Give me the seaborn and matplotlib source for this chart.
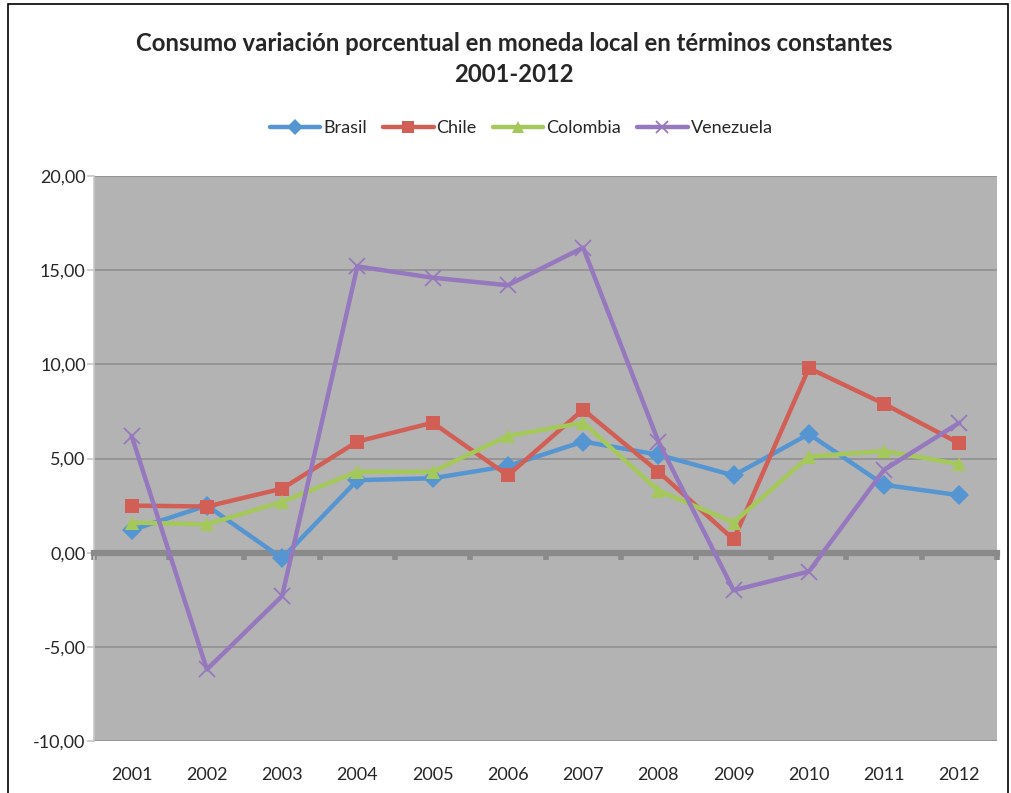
import matplotlib
matplotlib.use("Agg")
import matplotlib.pyplot as plt
import matplotlib.colors as mcolors
import seaborn as sns
import pandas as pd
import numpy as np
from matplotlib.patches import Rectangle

years = ["2001", "2002", "2003", "2004", "2005", "2006", "2007", "2008", "2009", "2010", "2011", "2012"]
brasil = [1.2, 2.5, -0.3, 3.85, 3.95, 4.6, 5.9, 5.2, 4.1, 6.3, 3.6, 3.05]
chile = [2.5, 2.45, 3.4, 5.9, 6.9, 4.1, 7.6, 4.3, 0.7, 9.8, 7.9, 5.8]
colombia = [1.6, 1.5, 2.7, 4.3, 4.3, 6.2, 6.9, 3.3, 1.6, 5.1, 5.4, 4.7]
venezuela = [6.2, -6.2, -2.3, 15.2, 14.6, 14.2, 16.2, 5.9, -2.0, -1.0, 4.4, 6.9]
series = ["Brasil", "Chile", "Colombia", "Venezuela"]
yticks = [-10, -5, 0, 5, 10, 15, 20]
title = "Consumo variación porcentual en moneda local en términos constantes\n2001-2012"

colors = {"Brasil": "#5596D2", "Chile": "#D25F55", "Colombia": "#A5C85A", "Venezuela": "#9678BE"}
markers = {"Brasil": "D", "Chile": "s", "Colombia": "^", "Venezuela": "X"}

df = pd.concat([
    pd.DataFrame({"year": years, "value": vals, "country": name})
    for name, vals in zip(series, [brasil, chile, colombia, venezuela])
], ignore_index=True)

sns.set_theme(style="white")
plt.rcParams["font.family"] = ["Lato", "DejaVu Sans"]

fig = plt.figure(figsize=(10.12, 7.93), dpi=100)
ax = fig.add_axes([94 / 1012, 1 - 741 / 793, (997 - 94) / 1012, (741 - 176) / 793])
ax.set_facecolor("#b3b3b3")

sns.lineplot(data=df, x="year", y="value", hue="country", style="country",
             palette=colors, markers=markers, dashes=False, sort=False,
             linewidth=3.2, markersize=10, ax=ax, zorder=3)

def is_ven(line):
    return mcolors.to_hex(line.get_color()).lower() == colors["Venezuela"].lower()

def style_line(line, legend=False):
    if is_ven(line):
        line.set_marker("x")
        line.set_markersize(9 if legend else 11)
        line.set_markeredgewidth(1.3)
        line.set_markeredgecolor(colors["Venezuela"])
    else:
        line.set_markeredgewidth(0)
        if legend:
            line.set_markersize(8)

for line in ax.lines:
    style_line(line)

ax.set_ylim(-10, 20)
ax.set_xlim(-0.5, len(years) - 0.5)
ax.set_yticks(yticks)
ax.set_yticklabels([f"{v:.2f}".replace(".", ",") for v in yticks], fontsize=13)
ax.yaxis.grid(True, color="#8f8f8f", linewidth=1.2)
ax.set_axisbelow(True)

# zero line with category boundary ticks
ax.spines["bottom"].set_position(("data", 0))
ax.spines["bottom"].set_color("#8a8a8a")
ax.spines["bottom"].set_linewidth(4.5)
ax.set_xticks(np.arange(len(years) + 1) - 0.5)
ax.set_xticklabels([])
ax.tick_params(axis="x", direction="out", length=5, width=4, color="#8a8a8a", bottom=True)
ax.spines["left"].set_color("#c8c8c8")
ax.spines["left"].set_linewidth(1.2)
ax.tick_params(axis="y", direction="out", length=5, width=1.2, color="#c8c8c8", left=True, pad=1)
ax.spines["top"].set_visible(False)
ax.spines["right"].set_visible(False)

sec = ax.secondary_xaxis(0)
sec.set_xticks(np.arange(len(years)))
sec.set_xticklabels(years, fontsize=13)
sec.tick_params(length=0, pad=19)
sec.spines["bottom"].set_visible(False)

ax.set_xlabel("")
ax.set_ylabel("")

handles, labels = ax.get_legend_handles_labels()
for h in handles:
    style_line(h, legend=True)
ax.legend_.remove()
fig.legend(handles, labels, loc="center", bbox_to_anchor=(0.515, 1 - 128 / 793), ncol=4,
           frameon=False, fontsize=13, handlelength=2.8, handletextpad=0.15, columnspacing=0.9)

fig.text(0.508, 1 - 59 / 793, title, ha="center", va="center", fontsize=17.2, fontweight="bold", linespacing=1.4)

fig.patches.append(Rectangle((8 / 1012, -0.05), (1008 - 8) / 1012, 1.05 - 4 / 793,
                             transform=fig.transFigure, fill=False, edgecolor="black", linewidth=1.2))

fig.savefig("out.png", dpi=100, facecolor="white")
